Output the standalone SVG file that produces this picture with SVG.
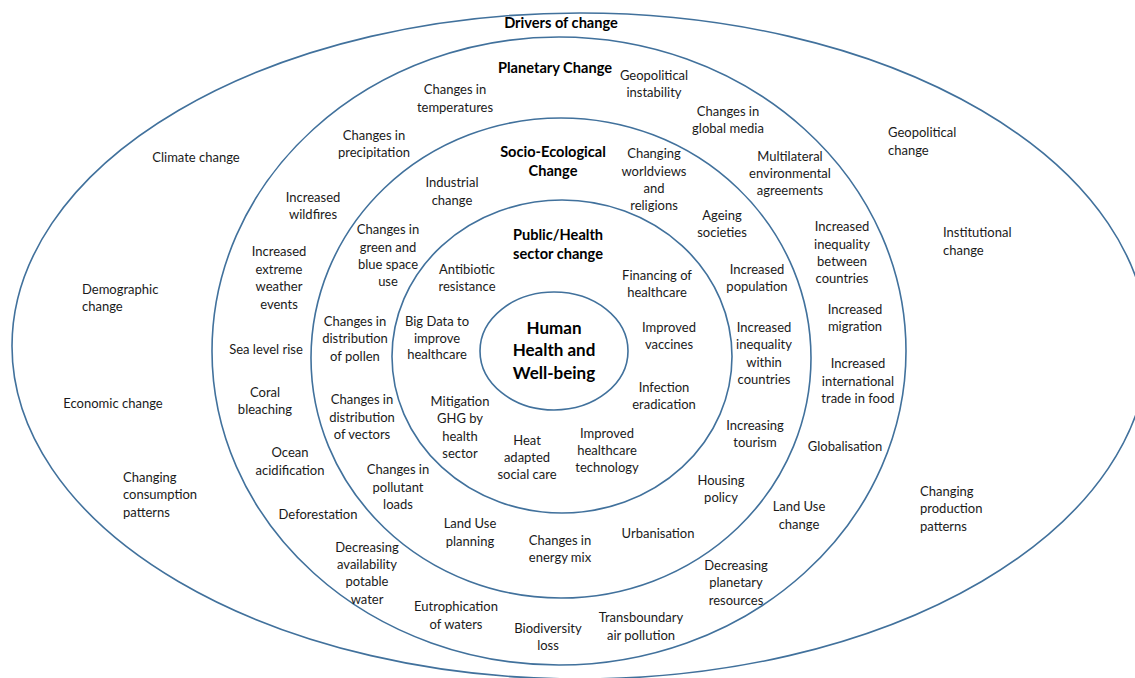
<svg xmlns="http://www.w3.org/2000/svg" width="1135" height="678" viewBox="0 0 1135 678">
<style>
.ring{fill:none;stroke:#41719c;stroke-width:1.6}
.t{font-family:Lato,"Liberation Sans",sans-serif;font-size:13px;fill:#1a1a1a;text-anchor:middle}
.l{text-anchor:start}
.h{font-family:Lato,"Liberation Sans",sans-serif;font-weight:bold;font-size:14.6px;fill:#000;text-anchor:middle}
.c{font-family:Lato,"Liberation Sans",sans-serif;font-weight:bold;font-size:17px;fill:#000;text-anchor:middle}
</style>
<rect width="1135" height="678" fill="#fff"/>
<g id="drivers">
<ellipse class="ring" cx="580" cy="346" rx="568" ry="333"/>
<text class="h" x="561" y="28">Drivers of change</text>
<text class="t" x="196" y="162">Climate change</text>
<text class="t l" x="82"><tspan x="82" y="294">Demographic</tspan><tspan x="82" y="311">change</tspan></text>
<text class="t" x="113" y="408">Economic change</text>
<text class="t l"><tspan x="123" y="482">Changing</tspan><tspan x="123" y="499">consumption</tspan><tspan x="123" y="517">patterns</tspan></text>
<text class="t l"><tspan x="888" y="137">Geopolitical</tspan><tspan x="888" y="155">change</tspan></text>
<text class="t l"><tspan x="943" y="237">Institutional</tspan><tspan x="943" y="255">change</tspan></text>
<text class="t l"><tspan x="920" y="496">Changing</tspan><tspan x="920" y="513">production</tspan><tspan x="920" y="531">patterns</tspan></text>
</g>
<g id="planetary">
<ellipse class="ring" cx="559" cy="351" rx="347" ry="314"/>
<text class="h" x="555" y="73">Planetary Change</text>
<text class="t"><tspan x="455" y="94">Changes in</tspan><tspan x="455" y="112">temperatures</tspan></text>
<text class="t"><tspan x="654" y="80">Geopolitical</tspan><tspan x="654" y="97">instability</tspan></text>
<text class="t"><tspan x="728" y="116">Changes in</tspan><tspan x="728" y="133">global media</tspan></text>
<text class="t"><tspan x="374" y="140">Changes in</tspan><tspan x="374" y="157">precipitation</tspan></text>
<text class="t"><tspan x="790" y="161">Multilateral</tspan><tspan x="790" y="178">environmental</tspan><tspan x="790" y="195">agreements</tspan></text>
<text class="t"><tspan x="313" y="202">Increased</tspan><tspan x="313" y="219">wildfires</tspan></text>
<text class="t"><tspan x="842" y="231">Increased</tspan><tspan x="842" y="249">inequality</tspan><tspan x="842" y="266">between</tspan><tspan x="842" y="283">countries</tspan></text>
<text class="t"><tspan x="279" y="256">Increased</tspan><tspan x="279" y="274">extreme</tspan><tspan x="279" y="291">weather</tspan><tspan x="279" y="309">events</tspan></text>
<text class="t"><tspan x="855" y="314">Increased</tspan><tspan x="855" y="331">migration</tspan></text>
<text class="t" x="266" y="354">Sea level rise</text>
<text class="t"><tspan x="858" y="368">Increased</tspan><tspan x="858" y="386">international</tspan><tspan x="858" y="403">trade in food</tspan></text>
<text class="t"><tspan x="265" y="397">Coral</tspan><tspan x="265" y="414">bleaching</tspan></text>
<text class="t" x="845" y="451">Globalisation</text>
<text class="t"><tspan x="290" y="457">Ocean</tspan><tspan x="290" y="475">acidification</tspan></text>
<text class="t" x="318" y="519">Deforestation</text>
<text class="t"><tspan x="799" y="511">Land Use</tspan><tspan x="799" y="529">change</tspan></text>
<text class="t"><tspan x="367" y="552">Decreasing</tspan><tspan x="367" y="569">availability</tspan><tspan x="367" y="586">potable</tspan><tspan x="367" y="604">water</tspan></text>
<text class="t"><tspan x="736" y="570">Decreasing</tspan><tspan x="736" y="587">planetary</tspan><tspan x="736" y="605">resources</tspan></text>
<text class="t"><tspan x="456" y="611">Eutrophication</tspan><tspan x="456" y="629">of waters</tspan></text>
<text class="t"><tspan x="548" y="633">Biodiversity</tspan><tspan x="548" y="650">loss</tspan></text>
<text class="t"><tspan x="641" y="622">Transboundary</tspan><tspan x="641" y="640">air pollution</tspan></text>
</g>
<g id="socio-ecological">
<ellipse class="ring" cx="561" cy="358" rx="250" ry="240"/>
<text class="h"><tspan x="553" y="157">Socio-Ecological</tspan><tspan x="553" y="176">Change</tspan></text>
<text class="t"><tspan x="452" y="187">Industrial</tspan><tspan x="452" y="205">change</tspan></text>
<text class="t"><tspan x="654" y="158">Changing</tspan><tspan x="654" y="176">worldviews</tspan><tspan x="654" y="193">and</tspan><tspan x="654" y="210">religions</tspan></text>
<text class="t"><tspan x="722" y="220">Ageing</tspan><tspan x="722" y="237">societies</tspan></text>
<text class="t"><tspan x="388" y="234">Changes in</tspan><tspan x="388" y="252">green and</tspan><tspan x="388" y="269">blue space</tspan><tspan x="388" y="286">use</tspan></text>
<text class="t"><tspan x="757" y="274">Increased</tspan><tspan x="757" y="291">population</tspan></text>
<text class="t"><tspan x="355" y="326">Changes in</tspan><tspan x="355" y="343">distribution</tspan><tspan x="355" y="361">of pollen</tspan></text>
<text class="t"><tspan x="764" y="332">Increased</tspan><tspan x="764" y="349">inequality</tspan><tspan x="764" y="367">within</tspan><tspan x="764" y="384">countries</tspan></text>
<text class="t"><tspan x="362" y="404">Changes in</tspan><tspan x="362" y="422">distribution</tspan><tspan x="362" y="439">of vectors</tspan></text>
<text class="t"><tspan x="755" y="430">Increasing</tspan><tspan x="755" y="447">tourism</tspan></text>
<text class="t"><tspan x="398" y="474">Changes in</tspan><tspan x="398" y="492">pollutant</tspan><tspan x="398" y="509">loads</tspan></text>
<text class="t"><tspan x="721" y="485">Housing</tspan><tspan x="721" y="502">policy</tspan></text>
<text class="t"><tspan x="470" y="528">Land Use</tspan><tspan x="470" y="546">planning</tspan></text>
<text class="t"><tspan x="560" y="545">Changes in</tspan><tspan x="560" y="562">energy mix</tspan></text>
<text class="t" x="658" y="538">Urbanisation</text>
</g>
<g id="public-health">
<ellipse class="ring" cx="562" cy="356.5" rx="170" ry="156.5"/>
<text class="h"><tspan x="558" y="240">Public/Health</tspan><tspan x="558" y="259">sector change</tspan></text>
<text class="t"><tspan x="467" y="274">Antibiotic</tspan><tspan x="467" y="291">resistance</tspan></text>
<text class="t"><tspan x="657" y="280">Financing of</tspan><tspan x="657" y="297">healthcare</tspan></text>
<text class="t"><tspan x="437" y="326">Big Data to</tspan><tspan x="437" y="343">improve</tspan><tspan x="437" y="359">healthcare</tspan></text>
<text class="t"><tspan x="669" y="332">Improved</tspan><tspan x="669" y="349">vaccines</tspan></text>
<text class="t"><tspan x="460" y="406">Mitigation</tspan><tspan x="460" y="423">GHG by</tspan><tspan x="460" y="441">health</tspan><tspan x="460" y="458">sector</tspan></text>
<text class="t"><tspan x="664" y="392">Infection</tspan><tspan x="664" y="409">eradication</tspan></text>
<text class="t"><tspan x="527" y="445">Heat</tspan><tspan x="527" y="462">adapted</tspan><tspan x="527" y="479">social care</tspan></text>
<text class="t"><tspan x="607" y="438">Improved</tspan><tspan x="607" y="455">healthcare</tspan><tspan x="607" y="472">technology</tspan></text>
</g>
<g id="human-health">
<ellipse class="ring" cx="554" cy="351" rx="74" ry="59"/>
<text class="c"><tspan x="554" y="334">Human</tspan><tspan x="554" y="356">Health and</tspan><tspan x="554" y="379">Well-being</tspan></text>
</g>
</svg>
